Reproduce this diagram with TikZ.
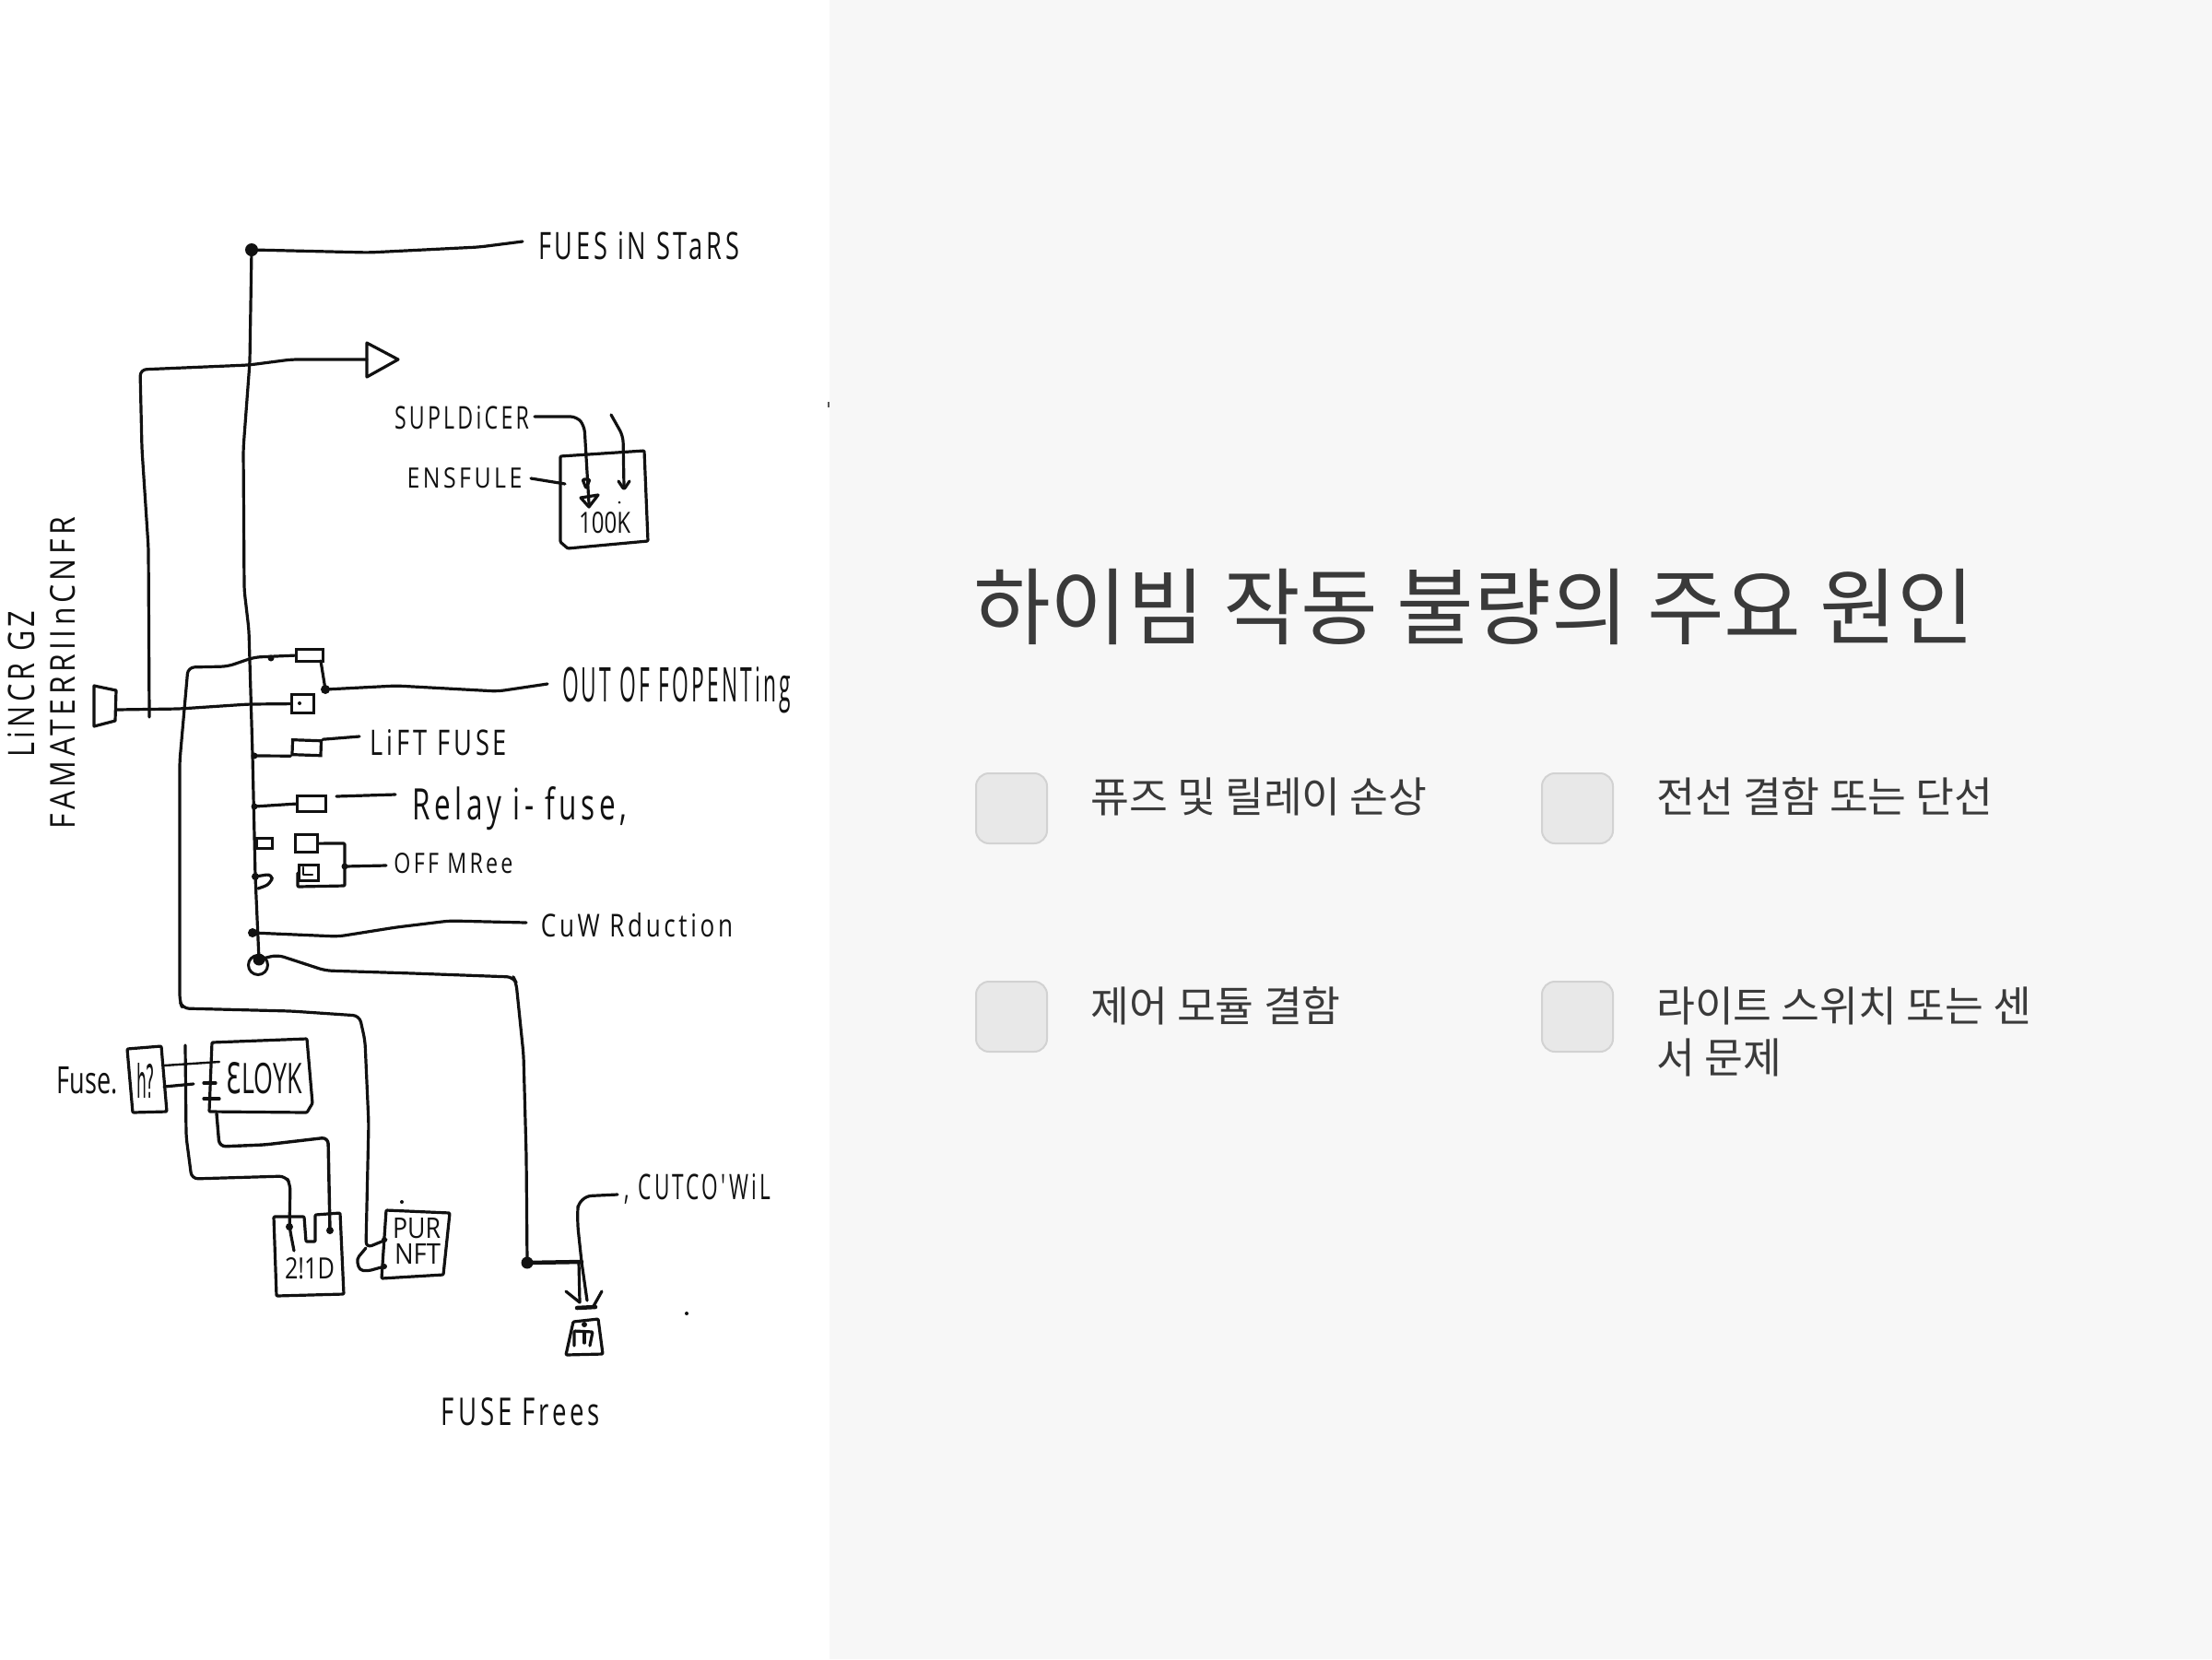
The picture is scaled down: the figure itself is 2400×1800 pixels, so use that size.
\documentclass[tikz,border=0pt]{standalone}
\usepackage{fontspec}
\setmainfont{Open Sans}
\newfontfamily\kr{Noto Sans CJK KR}
\newfontfamily\hwspaced[LetterSpace=14]{Open Sans}
\newcommand{\hw}[3]{\resizebox{#1pt}{#2pt}{#3}}
\newcommand{\hws}[3]{\resizebox{#1pt}{#2pt}{\hwspaced #3}}
\definecolor{ink}{HTML}{111111}
\definecolor{panel}{HTML}{F7F7F7}
\definecolor{chipfill}{HTML}{E8E8E8}
\definecolor{chipline}{HTML}{D2D2D2}
\definecolor{krtext}{HTML}{3A3A3A}
\tikzset{
 wire/.style={draw=ink,line width=3.2pt,rounded corners=7pt,line cap=round,line join=round},
 thin wire/.style={wire,line width=2.4pt},
 thick wire/.style={wire,line width=4.5pt},
 sketchbox/.style={draw=ink,line width=3.2pt,rectangle,inner sep=0pt,anchor=north west},
 blob/.style={circle,fill=ink,inner sep=0pt,minimum size=#1},
 blob/.default=9pt,
 hand/.style={inner sep=0pt,outer sep=0pt,text=ink},
 chip/.style={draw=chipline,fill=chipfill,line width=2pt,rounded corners=14pt,rectangle,minimum width=77pt,minimum height=76pt,inner sep=0pt,outer sep=0pt,anchor=north west},
 item/.style={inner sep=0pt,anchor=base west,text=krtext,font=\kr\fontsize{45.5}{56}\selectfont,align=left},
}
\begin{document}
\begin{tikzpicture}[x=1pt,y=-1pt]
\useasboundingbox (0,0) rectangle (2400,1800);
\fill[white] (0,0) rectangle (900,1800);
\fill[panel] (900,0) rectangle (2400,1800);
\fill[ink!70] (897.5,436) rectangle (899.5,442);

% ---- main bus
\node[blob=14pt] (top) at (273,271) {};
\node[blob=7pt] (jLift) at (276,820) {};
\node[blob=7pt] (jRelay) at (276,875) {};
\node[blob=10pt] (jCow) at (274,1012) {};
\node[blob=13pt] (jLow) at (281,1041) {};
\node[draw=ink,line width=3pt,circle,minimum size=21pt,inner sep=0pt] (ring) at (280,1047) {};
\draw[wire] (top.center) -- (271,393) -- (264,487) -- (265,640) -- (270,683) -- (274,819) -- (277,951) -- (jLow.center);
\coordinate (fuesEnd) at (567,262);
\draw[wire] (top.center) -- (400,274) -- (520,268) -- (fuesEnd);
\node[hand] (tFues) at (693,267) {\hws{218}{30}{FUES iN STaRS}};

% ---- triangle and long feed
\coordinate (tri) at (398,390);
\draw[wire,rounded corners=0pt] (398,372) -- (432,390) -- (398,409) -- cycle;
\coordinate (feedStart) at (162,778);
\draw[wire] (feedStart) -- (161,594) -- (154,487) -- (152,401) -- (270,396) -- (316,390) -- (tri);

% ---- SUPLDICER block
\node[hand] (tSup) at (501,453) {\hws{146}{25}{SUPLDiCER}};
\node[hand] (tEns) at (504,519) {\hws{125}{22}{ENSFULE}};
\draw[wire,rounded corners=1pt] (608,495) -- (699,489) -- (703,587) -- (616,595) -- (608,588) -- cycle;
\node[hand] (t100K) at (656,567) {\hw{56}{23}{100K}};
\coordinate (supEnd) at (639,546);
\draw[wire] (580,452) -- (626,452) -- (634,462) -- (supEnd);
\coordinate (sup2) at (663,450);
\draw[wire] (sup2) -- (676,473) -- (677,528);
\draw[wire,rounded corners=0pt] (630,540) -- (639,550) -- (649,537) -- cycle;
\draw[wire,rounded corners=2pt] (632,520) -- (636,530) -- (640,520) -- cycle;
\draw[wire,rounded corners=2pt] (671,522) -- (677,531) -- (683,522);
\fill[ink] (672,545) circle (1.5pt);
\coordinate (ensEnd) at (613,525);
\draw[wire] (576,519) -- (ensEnd);

% ---- left vertical labels
\node[hand,rotate=90] (tLin) at (23,742) {\hws{159}{29}{LiNCR GZ}};
\node[hand,rotate=90] (tFam) at (68,730) {\hws{338}{27}{FAMATERRIInCNFR}};

% ---- trapezoid and middle wire
\draw[wire,rounded corners=0pt] (102,744) -- (126,749) -- (125,782) -- (102,788) -- cycle;
\node[sketchbox,minimum width=24pt,minimum height=20pt] (bMinus) at (315,752) {};
\fill[ink] (325,763) circle (2pt);
\coordinate (trapOut) at (126,770);
\draw[wire] (trapOut) -- (195,769) -- (270,764) -- (bMinus.west);

% ---- top fuse box and left bus
\node[sketchbox,minimum width=29pt,minimum height=13pt] (bTop) at (320,703) {};
\node[blob=7pt] (jTop) at (294,714) {};
\node[blob=10pt] (jOut) at (353,748) {};
\draw[wire] (bTop.west) -- (276,713) -- (247,723) -- (204,724) -- (195,826) -- (195,1086) -- (198,1094) -- (316,1097) -- (390,1102) -- (396,1129) -- (400,1219) -- (397,1354) -- (419,1345);
\draw[wire] (348,717) -- (jOut.center);
\coordinate (outEnd) at (594,742);
\draw[wire] (jOut.center) -- (430,744) -- (540,750) -- (outEnd);
\node[hand] (tOut) at (734,749) {\hws{248}{38}{OUT OF FOPENTing}};

% ---- lift fuse
\node[sketchbox,minimum width=31pt,minimum height=16pt,rotate=-2] (bLift) at (316,801) {};
\draw[wire] (jLift.center) -- (bLift.south west);
\coordinate (liftEnd) at (390,799);
\draw[wire] (bLift.north east) -- (liftEnd);
\node[hand] (tLift) at (476,806) {\hws{148}{28}{LiFT FUSE}};

% ---- relay
\node[sketchbox,minimum width=31pt,minimum height=17pt] (bRelay) at (321,862) {};
\draw[wire] (jRelay.center) -- (bRelay.west);
\coordinate (relayA) at (365,864);
\coordinate (relayB) at (429,862);
\draw[wire] (relayA) -- (relayB);
\node[hand] (tRelay) at (564,877) {\hws{232}{36}{Relay i- fuse,}};

% ---- off mree group
\node[sketchbox,minimum width=17pt,minimum height=11pt] (bS1) at (277,908) {};
\node[sketchbox,minimum width=24pt,minimum height=19pt] (bS2) at (319,904) {};
\node[sketchbox,minimum width=21pt,minimum height=17pt] (bS3) at (323,937) {};
\draw[wire,line width=2.4pt,rounded corners=0pt] (329,941) -- (329,949) -- (339,949);
\coordinate (offEnd) at (419,939);
\node[blob=7pt] (jOff) at (374,940) {};
\draw[wire,rounded corners=1pt] (bS2.east) -- (374,915) -- (374,961) -- (323,962) -- (bS3.west);
\draw[wire] (jOff.center) -- (offEnd);
\node[hand] (tOff) at (492,937) {\hws{129}{22}{OFF MRee}};
\node[blob=8pt] (jS4) at (277,951) {};
\draw[wire] (jS4.center) -- (296,948) -- (294,959) -- (280,964);

% ---- cow
\coordinate (cowEnd) at (571,1001);
\draw[wire] (jCow.center) -- (367,1016) -- (430,1006) -- (488,999) -- (cowEnd);
\node[hand] (tCow) at (691,1004) {\hws{208}{26}{CuW Rduction}};

% ---- long wire to bottom right
\node[blob=13pt] (jBig) at (572,1370) {};
\draw[wire] (jLow.center) -- (301,1036) -- (353,1053) -- (448,1056) -- (557,1060) -- (560,1066) -- (568,1144) -- (571,1254) -- (jBig.center);
\coordinate (bigEnd) at (631,1369);
\draw[thick wire,rounded corners=0pt] (jBig.center) -- (bigEnd);
\draw[wire,rounded corners=0pt] (bigEnd) -- (637,1411);
\draw[wire,rounded corners=0pt] (628,1369) -- (629,1413);
\draw[wire,rounded corners=0pt] (614,1401) -- (629,1413);
\draw[wire,rounded corners=0pt] (653,1401) -- (644,1417);
\draw[thick wire,rounded corners=0pt] (626,1419) -- (646,1418);
\coordinate (cutEnd) at (670,1296);
\draw[wire,rounded corners=14pt] (bigEnd) -- (626,1322) -- (628,1298) -- (cutEnd);
\node[hand] (tCut) at (757,1290) {\hws{158}{28}{, CUTCO'WiL}};

% ---- bell
\draw[wire,rounded corners=1pt] (614,1470) -- (622,1434) -- (649,1431) -- (654,1469) -- cycle;
\draw[wire,rounded corners=1pt] (623,1460) -- (623,1444) -- (643,1445) -- (640,1460);
\draw[wire,rounded corners=0pt] (634,1446) -- (634,1457);
\node[blob=6pt] (jBell) at (634,1437) {};
\fill[ink] (745,1425) circle (2pt);
\node[hand] (tFrees) at (565,1532) {\hws{172}{30}{FUSE Frees}};

% ---- fuse and Eloyk
\node[hand] (tFuse) at (95,1172) {\hw{66}{29}{Fuse.}};
\draw[wire,rounded corners=1pt] (138,1138) -- (175,1135) -- (181,1206) -- (144,1207) -- cycle;
\node[hand] (tGlyph) at (158,1172) {\hw{20}{38}{\fontspec{DejaVu Sans}h?}};
\draw[wire,rounded corners=1pt] (230,1131) -- (333,1127) -- (339,1197) -- (333,1207) -- (227,1206) -- cycle;
\node[hand] (tEloyk) at (287,1170) {\hw{82}{34}{{\fontspec{DejaVu Sans}Ɛ}LOYK}};
\coordinate (fuseA) at (178,1156);
\coordinate (fuseB) at (178,1179);
\coordinate (eloA) at (238,1152);
\coordinate (eloB) at (210,1176);
\draw[thin wire,rounded corners=0pt] (fuseA) -- (eloA);
\draw[wire,rounded corners=0pt] (fuseB) -- (eloB);
\draw[wire,rounded corners=0pt] (221,1175) -- (234,1175);
\draw[wire,rounded corners=0pt] (221,1192) -- (238,1192);

% ---- 217D
\draw[wire,rounded corners=1pt] (297,1320) -- (330,1320) -- (332,1347) -- (342,1347) -- (342,1318) -- (369,1316) -- (373,1404) -- (300,1406) -- cycle;
\node[hand] (t217) at (336,1376) {\hw{54}{23}{2!1D}};
\node[blob=8pt] (p1) at (314,1331) {};
\node[blob=8pt] (p2) at (358,1335) {};
\coordinate (fuseDown) at (201,1134);
\draw[wire] (fuseDown) -- (202,1233) -- (208,1279) -- (310,1276) -- (315,1285) -- (p1.center) -- (319,1357);
\coordinate (eloDown) at (235,1208);
\draw[wire,line width=3.4pt] (eloDown) -- (238,1244) -- (287,1242) -- (356,1234) -- (p2.center);

% ---- PUR NFT
\draw[wire,rounded corners=1pt] (419,1313) -- (488,1316) -- (481,1383) -- (414,1387) -- cycle;
\node[hand] (tPur) at (452,1333) {\hw{52}{22}{PUR}};
\node[hand] (tNft) at (453,1360) {\hw{50}{22}{NFT}};
\fill[ink] (436,1304) circle (2pt);
\node[blob=6pt] (pA) at (417,1345) {};
\node[blob=6pt] (pB) at (417,1374) {};
\draw[wire,rounded corners=4pt] (397,1354) -- (387,1366) -- (390,1378) -- (399,1379) -- (pB.center);

% ---- right panel
\node[inner sep=0pt,anchor=base west,text=krtext,font=\kr\fontsize{91}{100}\selectfont] (title) at (1056,692) {하이빔 작동 불량의 주요 원인};
\node[chip] (c1) at (1059,839) {};
\node[chip] (c2) at (1673,839) {};
\node[chip] (c3) at (1059,1065) {};
\node[chip] (c4) at (1673,1065) {};
\node[item] (i1) at (1183,881) {퓨즈 및 릴레이 손상};
\node[item] (i2) at (1797,881) {전선 결함 또는 단선};
\node[item] (i3) at (1183,1108) {제어 모듈 결함};
\node[item] (i4) at (1797,1108) {라이트 스위치 또는 센};
\node[item] (i5) at (1797,1164) {서 문제};
\end{tikzpicture}
\end{document}
